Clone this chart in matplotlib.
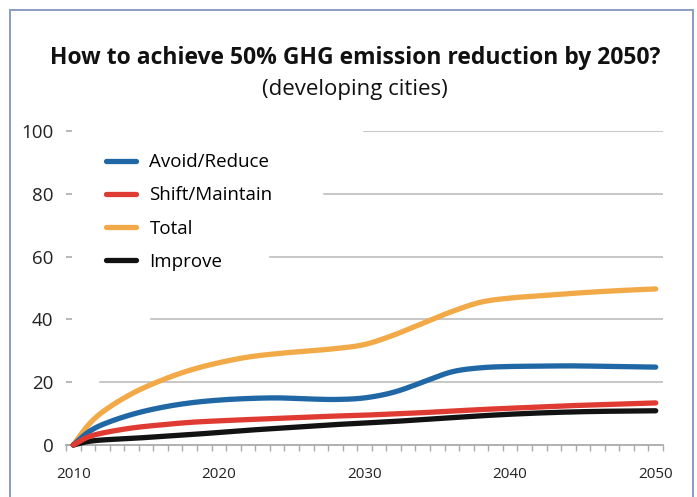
import numpy as np
import matplotlib
matplotlib.use("Agg")
import matplotlib.pyplot as plt
from matplotlib.patches import Rectangle

plt.rcParams['font.family'] = ['Open Sans', 'DejaVu Sans']

years = [2010, 2011, 2012, 2014, 2016, 2018, 2020, 2022, 2024, 2026, 2028, 2030,
         2032, 2034, 2036, 2038, 2040, 2042, 2044, 2046, 2048, 2050]
total = [0, 6.2, 10.5, 16.3, 20.5, 23.8, 26.2, 28.0, 29.1, 29.9, 30.7, 32,
         35, 38.8, 42.5, 45.5, 46.8, 47.5, 48.2, 48.8, 49.3, 49.7]
avoid_reduce = [0, 4.0, 6.5, 9.7, 11.9, 13.4, 14.3, 14.8, 15, 14.7, 14.5, 15,
                16.8, 20, 23.3, 24.6, 25, 25.1, 25.2, 25.1, 25, 24.8]
shift_maintain = [0, 2.5, 3.8, 5.4, 6.4, 7.2, 7.7, 8.1, 8.5, 8.9, 9.2, 9.5,
                  9.9, 10.3, 10.8, 11.3, 11.7, 12.1, 12.5, 12.8, 13.1, 13.4]
improve = [0, 1.1, 1.6, 2.1, 2.7, 3.3, 4.0, 4.7, 5.3, 5.9, 6.5, 7.0,
           7.5, 8.1, 8.7, 9.3, 9.8, 10.2, 10.5, 10.7, 10.8, 10.9]

x_ticks = [2010, 2020, 2030, 2040, 2050]
y_ticks = [0, 20, 40, 60, 80, 100]

title = "How to achieve 50% GHG emission reduction by 2050?"
subtitle = "(developing cities)"


def smooth(x, y, n=24):
    """Cubic Hermite (Catmull-Rom style) smooth rendering through the given points."""
    x = np.asarray(x, float)
    y = np.asarray(y, float)
    m = np.zeros_like(y)
    m[1:-1] = (y[2:] - y[:-2]) / (x[2:] - x[:-2])
    m[0] = (y[1] - y[0]) / (x[1] - x[0])
    m[-1] = (y[-1] - y[-2]) / (x[-1] - x[-2])
    xs, ys = [], []
    t = np.linspace(0, 1, n, endpoint=False)
    for i in range(len(x) - 1):
        h = x[i + 1] - x[i]
        h00 = 2 * t ** 3 - 3 * t ** 2 + 1
        h10 = t ** 3 - 2 * t ** 2 + t
        h01 = -2 * t ** 3 + 3 * t ** 2
        h11 = t ** 3 - t ** 2
        xs.append(x[i] + h * t)
        ys.append(h00 * y[i] + h10 * h * m[i] + h01 * y[i + 1] + h11 * h * m[i + 1])
    xs.append([x[-1]])
    ys.append([y[-1]])
    return np.concatenate(xs), np.concatenate(ys)


fig = plt.figure(figsize=(6.97, 4.97), dpi=100)
fig.patch.set_facecolor('white')

# frame
fig.patches.append(Rectangle((10 / 697, -0.05), 683 / 697, 1.05 - 10 / 497,
                             transform=fig.transFigure, fill=False,
                             edgecolor='#8a9cc4', linewidth=1.4))

ax = fig.add_axes([66 / 697, 52 / 497, 597 / 697, 314 / 497])
ax.set_xlim(2009.5, 2050.5)
ax.set_ylim(0, 100)

grid_starts = {20: 0.057, 40: 0.142, 60: 0.342, 80: 0.432, 100: 0.499}
for yv, st in grid_starts.items():
    ax.axhline(yv, xmin=st, xmax=1, color='#bdbdbd', linewidth=1.2, zorder=1)

colors = {'Avoid/Reduce': '#2067a6', 'Shift/Maintain': '#e03b33',
          'Total': '#f2aa48', 'Improve': '#121212'}
series = {'Total': total, 'Avoid/Reduce': avoid_reduce,
          'Improve': improve, 'Shift/Maintain': shift_maintain}
lines = {}
for name, vals in series.items():
    sx, sy = smooth(years, vals)
    ln, = ax.plot(sx, sy, color=colors[name], linewidth=3.8,
                  solid_capstyle='round', clip_on=False, zorder=3, label=name)
    lines[name] = ln

order = ['Avoid/Reduce', 'Shift/Maintain', 'Total', 'Improve']
ax.legend([lines[k] for k in order], order, loc='upper left',
          bbox_to_anchor=(0.055, 0.953), frameon=False, fontsize=13.5,
          handlelength=1.6, handletextpad=0.7, labelspacing=0.81,
          borderaxespad=0)

for s in ['top', 'right', 'left']:
    ax.spines[s].set_visible(False)
ax.spines['bottom'].set_color('#aaaaaa')
ax.spines['bottom'].set_linewidth(1.3)

ax.set_yticks(y_ticks)
ax.set_yticklabels([str(v) for v in y_ticks], fontsize=13.5)
ax.tick_params(axis='y', direction='in', length=4.5, color='#aaaaaa',
               width=1.2, pad=9, labelcolor='#222222')
ax.set_xticks(x_ticks)
ax.set_xticklabels([str(v) for v in x_ticks], fontsize=11)
ax.set_xticks([y + 0.5 for y in range(2009, 2051)], minor=True)
ax.tick_params(axis='x', which='major', length=0, pad=16, labelcolor='#222222')
ax.tick_params(axis='x', which='minor', direction='out', length=4,
               color='#aaaaaa', width=1)

fig.text(355 / 697, 1 - 58 / 497, title, ha='center', va='center',
         fontsize=16.5, fontweight='bold', color='#111111')
fig.text(355 / 697, 1 - 90 / 497, subtitle, ha='center', va='center',
         fontsize=16, color='#111111')

fig.savefig('out.png', dpi=100)
